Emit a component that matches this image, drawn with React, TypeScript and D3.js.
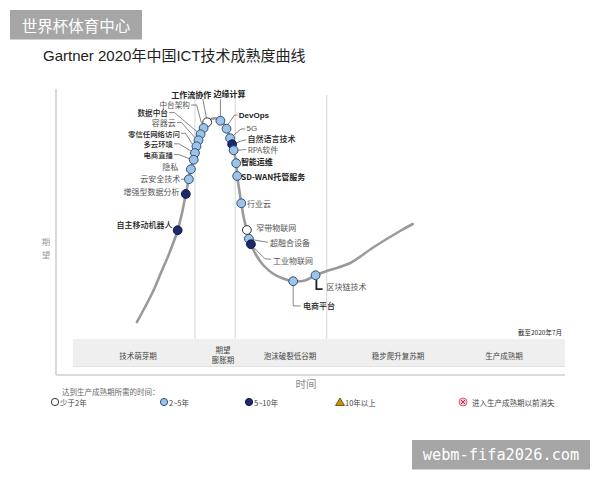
import React from 'react';
import * as d3 from 'd3';

// ---------- data ----------
// hype curve (t = time axis 0..100, v = expectation 0..100)
const curveT = [15.9, 17.5, 19.1, 20.6, 22.2, 23.9, 24.8, 25.5, 26.1, 26.5, 27.1, 27.6, 28.4, 29.0, 29.7, 30.8, 32.3, 33.5, 34.2, 34.9, 35.4, 35.6, 36.0, 36.4, 36.9, 37.6, 38.3, 39.3, 40.7, 42.6, 44.6, 46.6, 48.9, 51.0, 53.8, 57.8, 62.3, 67.6, 70.1];
const curveV = [6.4, 12.4, 18.8, 26.0, 33.6, 43.1, 50.4, 57.6, 63.5, 67.5, 72.0, 76.7, 81.5, 84.0, 86.3, 87.8, 87.2, 83.7, 79.9, 75.1, 69.9, 64.8, 59.2, 53.9, 48.0, 42.4, 37.5, 33.2, 29.2, 25.8, 23.8, 22.7, 23.0, 25.1, 27.2, 30.0, 36.2, 42.8, 45.6];

const techNames = ['工作流协作', '中台架构', '数据中台', '容器云', '零信任网络访问', '多云环境', '电商直播', '隐私', '云安全技术', '增强型数据分析', '自主移动机器人', '边缘计算', 'DevOps', '5G', '自然语言技术', 'RPA软件', '智能运维', 'SD-WAN托管服务', '行业云', '窄带物联网', '超融合设备', '工业物联网', '电商平台', '区块链技术'];
const techT = [29.7, 29.0, 28.4, 28.0, 27.6, 27.3, 27.05, 26.5, 26.1, 25.5, 23.9, 32.3, 33.5, 34.2, 34.6, 34.9, 35.4, 35.6, 36.4, 37.5, 37.9, 38.3, 46.6, 51.0];
const techV = [86.3, 84.0, 81.5, 79.1, 76.7, 74.0, 71.3, 67.5, 63.5, 57.6, 43.1, 86.9, 83.7, 79.9, 77.5, 75.1, 69.9, 64.8, 53.9, 43.2, 39.7, 37.5, 22.7, 25.1];
// years to plateau: 0 = <2, 1 = 2-5, 2 = 5-10
const techYears = [0, 1, 1, 1, 1, 1, 1, 1, 1, 2, 2, 1, 1, 1, 2, 1, 1, 1, 1, 0, 1, 2, 1, 1];

const phaseNames = ['技术萌芽期', '期望\n膨胀期', '泡沫破裂低谷期', '稳步爬升复苏期', '生产成熟期'];
const phaseDividersT = [27.3, 35.2, 53.2];

const legendTitle = '达到生产成熟期所需的时间：';
const legendLabels = ['少于2年', '2~5年', '5~10年', '10年以上', '进入生产成熟期以前消失'];

const titleText = 'Gartner 2020年中国ICT技术成熟度曲线';
const dateNote = '截至2020年7月';
const xAxisLabel = '时间';
const yAxisLabel = '期望';

// ---------- layout (pixel offsets relative to each dot) ----------
type Lay = { dx: number; dy: number; a: 'start' | 'middle' | 'end'; s?: number; leader?: number[][]; bold?: boolean; fs?: number };
const LAYOUT: Record<string, Lay> = {
  '工作流协作': { dx: -16, dy: -28, a: 'middle', s: 1, leader: [[-4.3, -23], [-0.8, -4.5]], bold: true },
  '中台架构': { dx: -13.7, dy: -23.3, a: 'end', s: 0, leader: [[-12.5, -23], [-7, -23], [-2, -4.3]], fs: 7.6 },
  '数据中台': { dx: -32.7, dy: -21.6, a: 'end', s: 1, leader: [[-31.5, -21.6], [-26, -21.6], [-3.5, -2.5]], fs: 7.6 },
  '容器云': { dx: -22.7, dy: -17.8, a: 'end', s: 0, leader: [[-21.5, -17.8], [-17, -17.8], [-3.5, -2.5]] },
  '零信任网络访问': { dx: -16.7, dy: -13, a: 'end', s: 1, leader: [[-15.5, -13], [-11, -13], [-4, -2]], fs: 7.4 },
  '多云环境': { dx: -22, dy: -9.2, a: 'end', s: 1, leader: [[-21, -9.2], [-16, -9.2], [-4, -2]], fs: 7.4 },
  '电商直播': { dx: -20.7, dy: -5.2, a: 'end', s: 1, leader: [[-19.5, -5.2], [-15, -5.2], [-4.2, -1]], fs: 7.4 },
  '隐私': { dx: -12.7, dy: -2.3, a: 'end', s: 0 },
  '云安全技术': { dx: -8.7, dy: -0.3, a: 'end', s: 0, leader: [[-8, 0], [-4.5, 0]] },
  '增强型数据分析': { dx: -6.2, dy: -2.3, a: 'end', s: 0 },
  '自主移动机器人': { dx: -5.2, dy: -5.3, a: 'end', s: 1 },
  '边缘计算': { dx: 9, dy: -27, a: 'middle', s: 1, leader: [[0, -21.5], [0, -4.5]], bold: true },
  'DevOps': { dx: 12.3, dy: -13.7, a: 'start', s: 1, leader: [[11, -13.7], [8, -13.7], [1.5, -4.2]], bold: true },
  '5G': { dx: 16.4, dy: -9.3, a: 'start', s: 0, leader: [[15, -9.3], [11, -9.3], [3, -2.5]] },
  '自然语言技术': { dx: 15.4, dy: -5.3, a: 'start', s: 1, leader: [[14, -4.5], [8, -3], [4, -1]] },
  'RPA软件': { dx: 14, dy: -1, a: 'start', s: 0, leader: [[12.5, -0.8], [4.5, 0]] },
  '智能运维': { dx: 4.7, dy: -1.3, a: 'start', s: 1, bold: true },
  'SD-WAN托管服务': { dx: 4, dy: 0.7, a: 'start', s: 1, bold: true },
  '行业云': { dx: 5.7, dy: 0.7, a: 'start', s: 0 },
  '窄带物联网': { dx: 9.3, dy: -2.3, a: 'start', s: 0 },
  '超融合设备': { dx: 21, dy: 3.6, a: 'start', s: 0, leader: [[4, 1], [19, 3.6]] },
  '工业物联网': { dx: 22, dy: 16.7, a: 'start', s: 0, leader: [[3, 3.5], [14, 14.5], [20, 15]] },
  '电商平台': { dx: 9.7, dy: 24.7, a: 'start', s: 1, leader: [[0, 4.5], [0, 24.7], [7.5, 24.7]] },
  '区块链技术': { dx: 11, dy: 11.4, a: 'start', s: 0 },
};

const W = 600;
const H = 480;
const CJK = '"Noto Sans CJK SC", "Noto Sans", sans-serif';
const LAT = '"Liberation Sans", Arial, "Noto Sans CJK SC", sans-serif';

const DOT_STYLE = [
  { fill: '#ffffff', stroke: '#333333' },
  { fill: '#9dc3e6', stroke: '#2f4f7f' },
  { fill: '#1b2a6b', stroke: '#101a4a' },
];

export default function App() {
  const x = d3.scaleLinear().domain([0, 100]).range([56, 565]);
  const y = d3.scaleLinear().domain([0, 100]).range([338, 88]);

  const curvePts: [number, number][] = curveT.map((t, i) => [x(t), y(curveV[i])]);
  const line = d3.line().curve(d3.curveCatmullRom.alpha(0.5));
  const curvePath = line(curvePts) || '';

  const phaseCentersPx = [138, 223, 290, 398, 504];
  const legendX = [55, 164, 249, 340, 463];

  return (
    <svg width={W} height={H} style={{ position: 'absolute', left: 0, top: 0, background: '#fff' }}>
      <rect x={0} y={0} width={W} height={H} fill="#ffffff" />

      {/* top-left watermark */}
      <rect x={10} y={10} width={132} height={29.5} fill="#a6a6a6" />
      <text x={76} y={25} textAnchor="middle" dominantBaseline="central" fill="#ffffff" fontSize={15.5} fontFamily={CJK}>世界杯体育中心</text>

      {/* title */}
      <text x={43} y={61} fill="#222" fontSize={15} fontFamily={LAT}>{titleText}</text>

      {/* frame */}
      <line x1={56} y1={89} x2={56} y2={375} stroke="#c4c4c4" strokeWidth={1.3} />
      <line x1={56} y1={375} x2={565} y2={375} stroke="#cfcfcf" strokeWidth={1.3} />

      {/* phase dividers */}
      {phaseDividersT.map((t, i) => (
        <line key={i} x1={x(t)} x2={x(t)} y1={95} y2={339} stroke="#d6d6d6" strokeWidth={1} />
      ))}

      {/* phase band */}
      <rect x={73} y={339} width={492} height={27} fill="#efefef" />
      <line x1={73} x2={565} y1={366.5} y2={366.5} stroke="#e2e2e2" strokeWidth={1} />
      {phaseNames.map((p, i) => {
        const parts = p.split('\n');
        return (
          <text key={i} x={phaseCentersPx[i]} y={parts.length > 1 ? 349 : 355} textAnchor="middle" dominantBaseline="central" fontSize={7.5} fill="#444" fontFamily={CJK}>
            {parts.map((s, j) => (
              <tspan key={j} x={phaseCentersPx[i]} dy={j === 0 ? 0 : 10}>{s}</tspan>
            ))}
          </text>
        );
      })}

      <text x={562} y={332} textAnchor="end" dominantBaseline="central" fontSize={6.5} fill="#222" fontFamily={CJK}>{dateNote}</text>

      {/* axis labels */}
      <text x={306} y={383} textAnchor="middle" dominantBaseline="central" fontSize={10.5} fill="#8a8a8a" fontFamily={CJK}>{xAxisLabel}</text>
      <text x={46} y={241} textAnchor="middle" fontSize={8.5} fill="#999" fontFamily={CJK} dominantBaseline="central">
        {yAxisLabel.split('').map((c, i) => (
          <tspan key={i} x={46} dy={i === 0 ? 0 : 12.5}>{c}</tspan>
        ))}
      </text>

      {/* curve */}
      <path d={curvePath} fill="none" stroke="#9a9a9a" strokeWidth={2.6} strokeLinecap="round" />

      {/* leaders */}
      {techNames.map((n, i) => {
        const L = LAYOUT[n];
        if (!L || !L.leader) return null;
        const cx = x(techT[i]);
        const cy = y(techV[i]);
        const pts = L.leader.map((p) => `${cx + p[0]},${cy + p[1]}`).join(' ');
        return <polyline key={'l' + i} points={pts} fill="none" stroke="#666" strokeWidth={0.8} />;
      })}
      {/* blockchain thick L leader */}
      {techNames.map((n, i) => {
        if (n !== '区块链技术') return null;
        const cx = x(techT[i]);
        const cy = y(techV[i]);
        return <polyline key="bl" points={`${cx + 0.8},${cy + 4.3} ${cx + 0.8},${cy + 13.8} ${cx + 7},${cy + 13.8}`} fill="none" stroke="#222" strokeWidth={1.8} />;
      })}

      {/* dots */}
      {techNames.map((n, i) => {
        const st = DOT_STYLE[techYears[i]];
        return <circle key={'d' + i} cx={x(techT[i])} cy={y(techV[i])} r={4.4} fill={st.fill} stroke={st.stroke} strokeWidth={1} />;
      })}

      {/* labels */}
      {techNames.map((n, i) => {
        const L = LAYOUT[n];
        const cx = x(techT[i]);
        const cy = y(techV[i]);
        const sans = L.s === 1;
        return (
          <text key={'t' + i} x={cx + L.dx} y={cy + L.dy} textAnchor={L.a} dominantBaseline="central"
            fontSize={L.fs || 8} fill={sans ? '#222' : '#555'} fontWeight={L.bold ? 600 : sans ? 500 : 400}
            fontFamily={n === 'DevOps' || n === '5G' ? LAT : CJK}>{n}</text>
        );
      })}

      {/* legend */}
      <text x={62} y={391} dominantBaseline="central" fontSize={7.5} fill="#666" fontFamily={CJK}>{legendTitle}</text>
      {legendLabels.map((lab, i) => {
        const lx = legendX[i];
        const ly = 402;
        let mark: React.ReactNode = null;
        if (i < 3) {
          const st = DOT_STYLE[i];
          mark = <circle cx={lx} cy={ly} r={3.6} fill={st.fill} stroke={i === 0 ? '#333' : st.stroke} strokeWidth={1} />;
        } else if (i === 3) {
          mark = <path d={`M${lx - 4.5},${ly + 3.5} L${lx},${ly - 4} L${lx + 4.5},${ly + 3.5} Z`} fill="#c8940e" stroke="#5a4000" strokeWidth={0.8} />;
        } else {
          mark = (
            <g>
              <circle cx={lx} cy={ly} r={4} fill="#f7c9d3" stroke="#e0607a" strokeWidth={1} />
              <line x1={lx - 2} y1={ly - 2} x2={lx + 2} y2={ly + 2} stroke="#d03050" strokeWidth={1} />
              <line x1={lx - 2} y1={ly + 2} x2={lx + 2} y2={ly - 2} stroke="#d03050" strokeWidth={1} />
            </g>
          );
        }
        return (
          <g key={'lg' + i}>
            {mark}
            <text x={lx + (i === 4 ? 9 : 5)} y={ly} dominantBaseline="central" fontSize={7.5} fill="#444" fontFamily={CJK}>{lab}</text>
          </g>
        );
      })}

      {/* bottom-right watermark */}
      <rect x={412} y={440} width={178} height={29.5} fill="#a6a6a6" />
      <text x={501} y={455} textAnchor="middle" dominantBaseline="central" fill="#ffffff" fontSize={15.3} fontFamily='"DejaVu Sans Mono", monospace'>webm-fifa2026.com</text>
    </svg>
  );
}
